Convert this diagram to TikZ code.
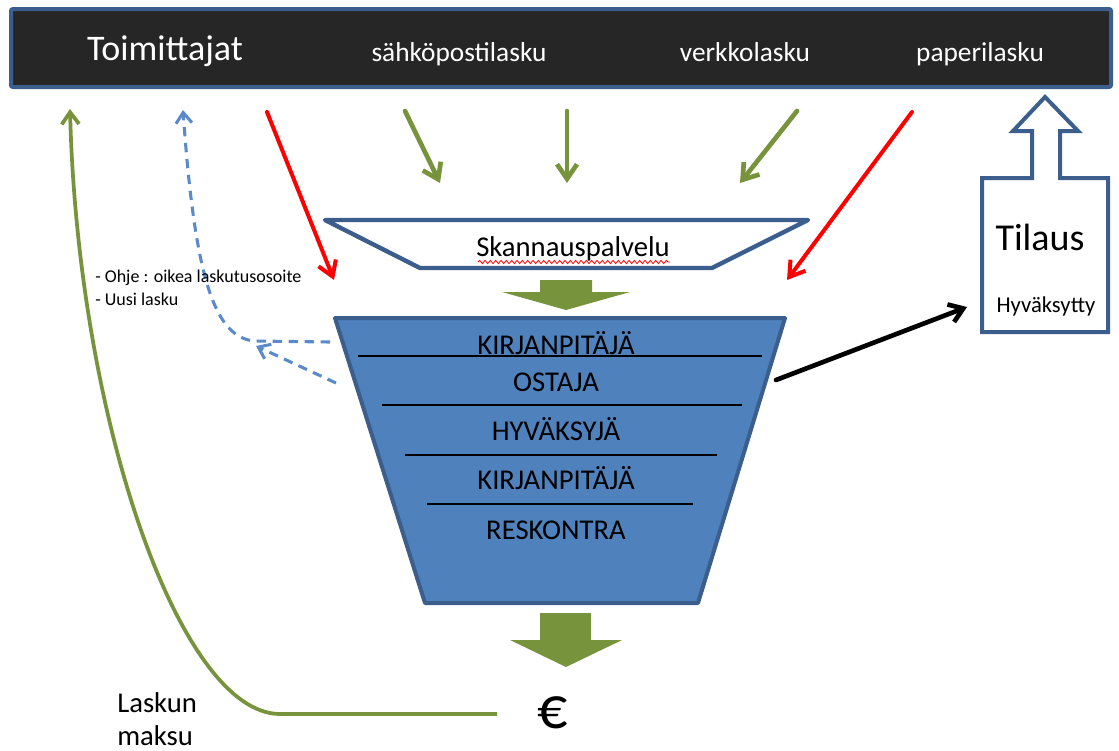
\documentclass[tikz,border=0pt]{standalone}
\usepackage{fontspec}
\setmainfont{Carlito}
\usetikzlibrary{arrows.meta,decorations.pathmorphing}
\definecolor{barfill}{HTML}{262626}
\definecolor{edgeblue}{HTML}{3B5E8C}
\definecolor{funnelblue}{HTML}{4F81BD}
\definecolor{leafgreen}{HTML}{77933C}
\definecolor{dashblue}{HTML}{5B8ACB}
\newcommand{\fs}[1]{\fontsize{#1}{#1}\selectfont}
\begin{document}
\begin{tikzpicture}[x=0.75pt,y=-0.75pt,
  greenflow/.style={draw=leafgreen, line width=3.5pt, line cap=round,
    -{Straight Barb[length=11pt,width=15pt]}},
  redflow/.style={draw=red, line width=3pt, line cap=round,
    -{Straight Barb[length=11pt,width=14pt]}},
  blackflow/.style={draw=black, line width=3.5pt, line cap=round,
    -{Straight Barb[length=10pt,width=14pt]}},
  returnflow/.style={draw=dashblue, line width=2.3pt, dash pattern=on 7pt off 5pt,
    -{Straight Barb[length=8pt,width=12pt]}},
  paidflow/.style={draw=leafgreen, line width=2.8pt,
    -{Straight Barb[length=9pt,width=13pt]}},
  bartext/.style={text=white, inner sep=0pt, anchor=base},
  layertext/.style={inner sep=0pt, anchor=base, font=\fs{21.5pt}},
  layerline/.style={draw=black, line width=1pt},
  blockarrow/.style={fill=leafgreen, draw=none}
]
\useasboundingbox (0,0) rectangle (1119,750);

% supplier bar
\draw[fill=barfill, draw=edgeblue, line width=3pt, rounded corners=1.5pt]
  (11,9) rectangle (1111,87);
\node[bartext, font=\fs{27pt}] (supp) at (165,60) {Toimittajat};
\node[bartext, font=\fs{20.5pt}] (email) at (459,61) {sähköpostilasku};
\node[bartext, font=\fs{20.5pt}] (einv) at (745,61) {verkkolasku};
\node[bartext, font=\fs{20.5pt}] (paper) at (980,61) {paperilasku};

% scanning service tray
\draw[fill=white, draw=edgeblue, line width=3.3pt, line join=round]
  (325,220) -- (808,220) -- (712,268) -- (420,268) -- cycle;
\node[inner sep=0pt, anchor=base, font=\fs{21.5pt}] (scan) at (573,256) {Skannauspalvelu};
\draw[red, line width=0.6pt, decorate,
  decoration={snake, amplitude=1.2, segment length=4}] (478,262) -- (670,262);

% incoming invoices
\coordinate (e1) at (405,111); \coordinate (e1t) at (440,183);
\coordinate (e2) at (567,111); \coordinate (e2t) at (567,183);
\coordinate (e3) at (797,111); \coordinate (e3t) at (740,183);
\draw[greenflow] (e1) -- (e1t);
\draw[greenflow] (e2) -- (e2t);
\draw[greenflow] (e3) -- (e3t);
\coordinate (r1) at (267,112); \coordinate (r1t) at (334,280);
\coordinate (r2) at (912,112); \coordinate (r2t) at (787,280);
\draw[redflow] (r1) -- (r1t);
\draw[redflow] (r2) -- (r2t);

% block arrow into the funnel
\fill[blockarrow] (540,280) -- (592,280) -- (592,292) -- (630,292) -- (566,310)
  -- (502,292) -- (540,292) -- cycle;

% processing funnel
\draw[fill=funnelblue, draw=edgeblue, line width=3pt, line join=round]
  (335,318) -- (785,318) -- (698,603) -- (425,603) -- cycle;
\draw[layerline] (358,356) -- (762,356);
\draw[layerline] (382,405) -- (742,405);
\draw[layerline] (405,455) -- (717,455);
\draw[layerline] (427,504) -- (693,504);
\node[layertext] (l1) at (556,354) {KIRJANPITÄJÄ};
\node[layertext] (l2) at (556,391) {OSTAJA};
\node[layertext] (l3) at (556,440) {HYVÄKSYJÄ};
\node[layertext] (l4) at (556,489) {KIRJANPITÄJÄ};
\node[layertext] (l5) at (556,539) {RESKONTRA};

% block arrow to payment
\fill[blockarrow] (540,613) -- (591,613) -- (591,640) -- (622,640) -- (566,667)
  -- (510,640) -- (540,640) -- cycle;
\node[inner sep=0pt, anchor=base, font=\fs{45pt}] (euro) at (553,728) {€};

% order box with upward arrow
\draw[fill=white, draw=edgeblue, line width=3pt, line join=miter]
  (982,178) -- (1032,178) -- (1032,131) -- (1013,131) -- (1045,97)
  -- (1078,131) -- (1060,131) -- (1060,178) -- (1108,178) -- (1108,332)
  -- (982,332) -- cycle;
\node[inner sep=0pt, anchor=base, font=\fs{28.5pt}] (order) at (1040,250) {Tilaus};
\node[inner sep=0pt, anchor=base, font=\fs{17pt}] (appr) at (1046,312) {Hyväksytty};

% approved order
\coordinate (fb) at (776,380);
\coordinate (ob) at (967,307);
\draw[blackflow] (fb) -- (ob);

% returns to supplier
\coordinate (ret1) at (330,342);
\coordinate (ret2) at (336,383);
\coordinate (retbend) at (255,341);
\coordinate (rethead) at (256,346);
\coordinate (rettop) at (183,110);
\draw[returnflow] (ret1) -- (retbend) .. controls (215,338) and (195,280) .. (rettop);
\draw[returnflow] (ret2) -- (rethead);
\node[anchor=base west, align=left, inner sep=0pt, font=\fs{13.5pt}] (note) at (95,282)
  {- Ohje : oikea laskutusosoite};
\node[anchor=base west, align=left, inner sep=0pt, font=\fs{13.5pt}] (note2) at (95,305)
  {- Uusi lasku};

% payment back to supplier
\coordinate (payA) at (497,714);
\coordinate (payB) at (280,714);
\coordinate (payTop) at (70,109);
\draw[paidflow] (payA) -- (payB) .. controls (180,714) and (78,420) .. (payTop);
\node[anchor=base west, inner sep=0pt, font=\fs{21.5pt}] (pay1) at (117,712) {Laskun};
\node[anchor=base west, inner sep=0pt, font=\fs{21.5pt}] (pay2) at (117,745) {maksu};
\end{tikzpicture}
\end{document}
